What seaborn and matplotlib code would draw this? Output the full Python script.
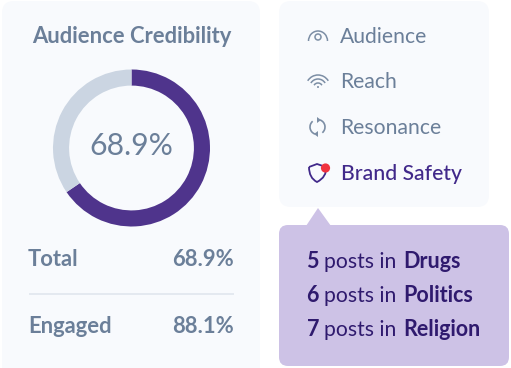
#!/usr/bin/env python3
import matplotlib as mpl
mpl.use('Agg')
import matplotlib.pyplot as plt
from matplotlib.patches import FancyBboxPatch, Polygon, Circle, Arc, PathPatch
from matplotlib.path import Path
import seaborn as sns

title = 'Audience Credibility'
center_label = '68.9%'
# arc as drawn in the picture (ends a bit short of the printed label)
ring_values = [65.5, 34.5]
ring_colors = ['#4f348c', '#cbd5e2']
stat_names = ['Total', 'Engaged']
stat_values = ['68.9%', '88.1%']
menu_items = ['Audience', 'Reach', 'Resonance', 'Brand Safety']
post_counts = ['5', '6', '7']
post_topics = ['Drugs', 'Politics', 'Religion']

GREY = '#6b7f99'
ICON = '#7c8ea5'
PURPLE = '#41298a'
DARK = '#2f1a6e'
CARD = '#f8fafd'
TIP = '#cdc2e6'

sns.set_theme(style='white')
plt.rcParams['font.family'] = ['Lato', 'DejaVu Sans']

fig = plt.figure(figsize=(5.11, 3.68), dpi=100, facecolor='white')
ax = fig.add_axes([0, 0, 1, 1])
ax.set_xlim(0, 511)
ax.set_ylim(368, 0)
ax.axis('off')


def card(x0, y0, x1, y1, color, r=12):
	ax.add_patch(FancyBboxPatch((x0 + r, y0 + r), x1 - x0 - 2 * r, y1 - y0 - 2 * r,
		boxstyle='round,pad=%d,rounding_size=%d' % (r, r), fc=color, ec='none'))


card(2, 1, 260, 380, CARD)
card(279, 1, 489, 207, CARD)
card(279, 225, 509, 366, TIP, r=9)
ax.add_patch(Polygon([(306, 226), (318, 208), (331, 226)], fc=TIP, ec='none'))

# left card
ax.text(131.5, 43, title, ha='center', va='baseline', fontsize=15.8, fontweight='bold', color=GREY)

ring = fig.add_axes([53 / 511, 1 - 226.5 / 368, 157 / 511, 157 / 368])
ring.pie(ring_values, colors=sns.color_palette(ring_colors), startangle=90, counterclock=False,
	radius=1.0, wedgeprops=dict(width=0.205, linewidth=0))
ring.set(xlim=(-1, 1), ylim=(-1, 1), aspect='equal')
sns.despine(ax=ring, left=True, bottom=True)
ring.text(0, -0.09, center_label, ha='center', va='baseline', fontsize=21.7, color=GREY)

for name, value, y in zip(stat_names, stat_values, [266, 333]):
	ax.text(28, y, name, ha='left', va='baseline', fontsize=15.8, fontweight='bold', color=GREY)
	ax.text(234, y, value, ha='right', va='baseline', fontsize=15.8, fontweight='bold', color=GREY)
ax.plot([29, 234], [293.5, 293.5], color='#e0e6ee', lw=1.2, solid_capstyle='butt')

# right menu
for item, y in zip(menu_items, [43, 88, 134, 180]):
	active = item == 'Brand Safety'
	ax.text(341 if active else 340, y, item, ha='left', va='baseline', fontsize=15.2,
		color=PURPLE if active else GREY, fontweight='medium' if active else 'normal')

# eye icon
ax.add_patch(Arc((318, 41), 19, 20, theta1=180, theta2=360, ec=ICON, lw=1.1))
ax.add_patch(Circle((318, 37), 3, fc='none', ec=ICON, lw=1.1))
# wifi icon
for d in [26, 18, 10]:
	ax.add_patch(Arc((318, 88), d * 0.95, d, theta1=215, theta2=325, ec=ICON, lw=1.1))
ax.add_patch(Circle((318, 87), 1, fc=ICON, ec='none'))
# resonance icon
ax.add_patch(Arc((317.5, 127), 15, 15, theta1=110, theta2=230, ec=ICON, lw=1.2))
ax.add_patch(Arc((317.5, 127), 15, 15, theta1=290, theta2=50, ec=ICON, lw=1.2))
ax.add_patch(Polygon([(317, 117), (321, 120), (317, 123)], fc=ICON, ec='none'))
ax.add_patch(Polygon([(318, 131), (314, 134), (318, 137)], fc=ICON, ec='none'))
# shield icon
shield = Path([(309, 167), (317, 164), (326, 167), (327, 177), (317, 182), (309, 178), (309, 167)],
	[Path.MOVETO, Path.LINETO, Path.LINETO, Path.CURVE3, Path.CURVE3, Path.CURVE3, Path.CURVE3])
ax.add_patch(PathPatch(shield, fc='none', ec=PURPLE, lw=1.3))
ax.add_patch(Circle((325.5, 168), 4.6, fc='#f0333f', ec='none'))

# tooltip lines
for count, topic, y in zip(post_counts, post_topics, [268, 302, 336]):
	ax.text(306.5, y, count, ha='left', va='baseline', fontsize=15.5, fontweight='bold', color=DARK)
	ax.text(324, y, 'posts in', ha='left', va='baseline', fontsize=15.2, color=DARK)
	ax.text(403, y, topic, ha='left', va='baseline', fontsize=15.5, fontweight='bold', color=DARK)

fig.savefig('out.png', dpi=100)
